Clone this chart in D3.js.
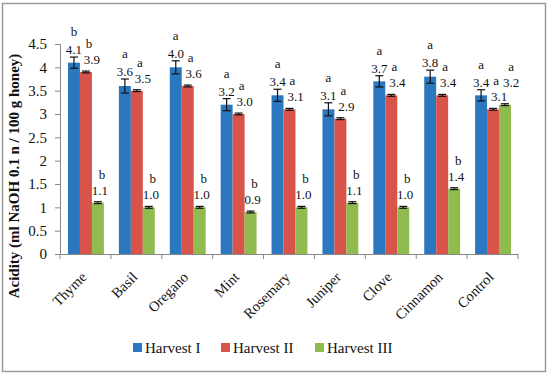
<!doctype html>
<html>
<head>
<meta charset="utf-8">
<script src="https://d3js.org/d3.v7.min.js"></script>
<style>
  body { margin: 0; background: #fff; }
  text { font-family: "Liberation Serif", serif; fill: #111; }
</style>
</head>
<body>
<div id="chart"></div>
<script>
// categories and series
var herbs = ["Thyme", "Basil", "Oregano", "Mint", "Rosemary", "Juniper", "Clove", "Cinnamon", "Control"];
var seriesNames = ["Harvest I", "Harvest II", "Harvest III"];
var harvest1 = [4.1, 3.6, 4.0, 3.2, 3.4, 3.1, 3.7, 3.8, 3.4];
var harvest2 = [3.9, 3.5, 3.6, 3.0, 3.1, 2.9, 3.4, 3.4, 3.1];
var harvest3 = [1.1, 1.0, 1.0, 0.9, 1.0, 1.1, 1.0, 1.4, 3.2];
var err1 = [0.12, 0.15, 0.14, 0.13, 0.13, 0.14, 0.12, 0.14, 0.12];
var err2 = [0.02, 0.02, 0.02, 0.02, 0.02, 0.02, 0.02, 0.02, 0.02];
var err3 = [0.02, 0.02, 0.02, 0.02, 0.02, 0.02, 0.02, 0.02, 0.02];
var letters1 = ["b", "a", "a", "a", "a", "a", "a", "a", "a"];
var letters2 = ["b", "a", "a", "a", "a", "a", "a", "a", "a"];
var letters3 = ["b", "b", "b", "b", "b", "b", "b", "b", "a"];
var yTicks = [0, 0.5, 1, 1.5, 2, 2.5, 3, 3.5, 4, 4.5];

var colors = ["#2c78c0", "#d8534a", "#8fbb4f"];
var values = [harvest1, harvest2, harvest3];
var errors = [err1, err2, err3];
var letters = [letters1, letters2, letters3];

var W = 550, H = 376;
var margin = {top: 44, left: 60, right: 32, bottom: 122};
var width = W - margin.left - margin.right,
    height = H - margin.top - margin.bottom;

var svg = d3.select("#chart").append("svg")
    .attr("width", W)
    .attr("height", H);

// outer frame
svg.append("rect")
    .attr("x", 2.5).attr("y", 3.5)
    .attr("width", 543).attr("height", 368)
    .attr("fill", "none").attr("stroke", "#9a9a9a").attr("stroke-width", 1.5);

var g = svg.append("g")
    .attr("transform", "translate(" + margin.left + "," + margin.top + ")");

var x0 = d3.scaleBand().domain(herbs).range([0, width]).paddingInner(0).paddingOuter(0);
var x1 = d3.scaleBand().domain([0, 1, 2]).range([8, x0.bandwidth() - 7]).padding(0);
var y = d3.scaleLinear().domain([0, 4.5]).range([height, 0]);

// y axis
var yAxis = g.append("g")
    .call(d3.axisLeft(y).tickValues(yTicks).tickSize(5).tickFormat(function(d) { return d; }));
yAxis.select(".domain").attr("stroke", "#888");
yAxis.selectAll(".tick line").attr("stroke", "#888");
yAxis.selectAll(".tick text").attr("font-size", 15).attr("x", -13);

// x axis
var xAxis = g.append("g")
    .attr("transform", "translate(0," + height + ")")
    .call(d3.axisBottom(x0).tickSize(0).tickFormat(""));
xAxis.select(".domain").attr("stroke", "#888");
g.selectAll(".xtick").data(d3.range(herbs.length + 1)).enter().append("line")
    .attr("x1", function(i) { return i * x0.step(); })
    .attr("x2", function(i) { return i * x0.step(); })
    .attr("y1", height).attr("y2", height + 5)
    .attr("stroke", "#888");

g.selectAll(".xlabel").data(herbs).enter().append("text")
    .attr("transform", function(d) {
      return "translate(" + (x0(d) + x0.bandwidth() / 2 + 2) + "," + (height + 24) + ") rotate(-45)";
    })
    .attr("text-anchor", "end")
    .attr("font-size", 14.5)
    .text(function(d) { return d; });

// bars, error bars, labels
var labelDx = [0, 6, 2];
var letterDx = [0, 3, 4];
var letterGap = [18, 16, 16];
var prevLabel = herbs.map(function() { return null; });

values.forEach(function(vals, s) {
  var grp = g.append("g");
  herbs.forEach(function(h, i) {
    var bx = x0(h) + x1(s), bw = x1.bandwidth(), cx = bx + bw / 2;
    grp.append("rect")
        .attr("x", bx).attr("y", y(vals[i]))
        .attr("width", bw).attr("height", height - y(vals[i]))
        .attr("fill", colors[s]);
    var e = errors[s][i];
    var top = y(vals[i] + e), bot = y(vals[i] - e);
    grp.append("line").attr("x1", cx).attr("x2", cx).attr("y1", top).attr("y2", bot)
        .attr("stroke", "#111").attr("stroke-width", 1.2);
    grp.append("line").attr("x1", cx - 4).attr("x2", cx + 4).attr("y1", top).attr("y2", top)
        .attr("stroke", "#111").attr("stroke-width", 1.2);
    grp.append("line").attr("x1", cx - 4).attr("x2", cx + 4).attr("y1", bot).attr("y2", bot)
        .attr("stroke", "#111").attr("stroke-width", 1.2);
    var lx = cx + labelDx[s], tx = cx + letterDx[s];
    var ly = Math.min(y(vals[i]) - 8, top - 3);
    // lift label if it would collide with the neighbouring series label
    var p = prevLabel[i];
    if (p && Math.abs(lx - p.x) < 17 && Math.abs(ly - p.y) < 14) {
      ly = p.y - 14;
      lx += 4;
      tx += 2;
    }
    prevLabel[i] = {x: lx, y: ly};
    grp.append("text")
        .attr("x", lx).attr("y", ly)
        .attr("text-anchor", "middle").attr("font-size", 13)
        .text(vals[i].toFixed(1));
    grp.append("text")
        .attr("x", tx).attr("y", ly - letterGap[s])
        .attr("text-anchor", "middle").attr("font-size", 13)
        .text(letters[s][i]);
  });
});

// y axis title
svg.append("text")
    .attr("transform", "translate(19," + 176 + ") rotate(-90)")
    .attr("text-anchor", "middle")
    .attr("font-size", 15)
    .attr("font-weight", "bold")
    .text("Acidity (ml NaOH 0.1 n / 100 g honey)");

// legend
var legX = [133, 221, 315];
var leg = svg.append("g");
seriesNames.forEach(function(n, s) {
  leg.append("rect")
      .attr("x", legX[s]).attr("y", 343)
      .attr("width", 9).attr("height", 9)
      .attr("fill", colors[s]);
  leg.append("text")
      .attr("x", legX[s] + 12).attr("y", 352.5)
      .attr("font-size", 15)
      .text(n);
});
</script>
</body>
</html>
